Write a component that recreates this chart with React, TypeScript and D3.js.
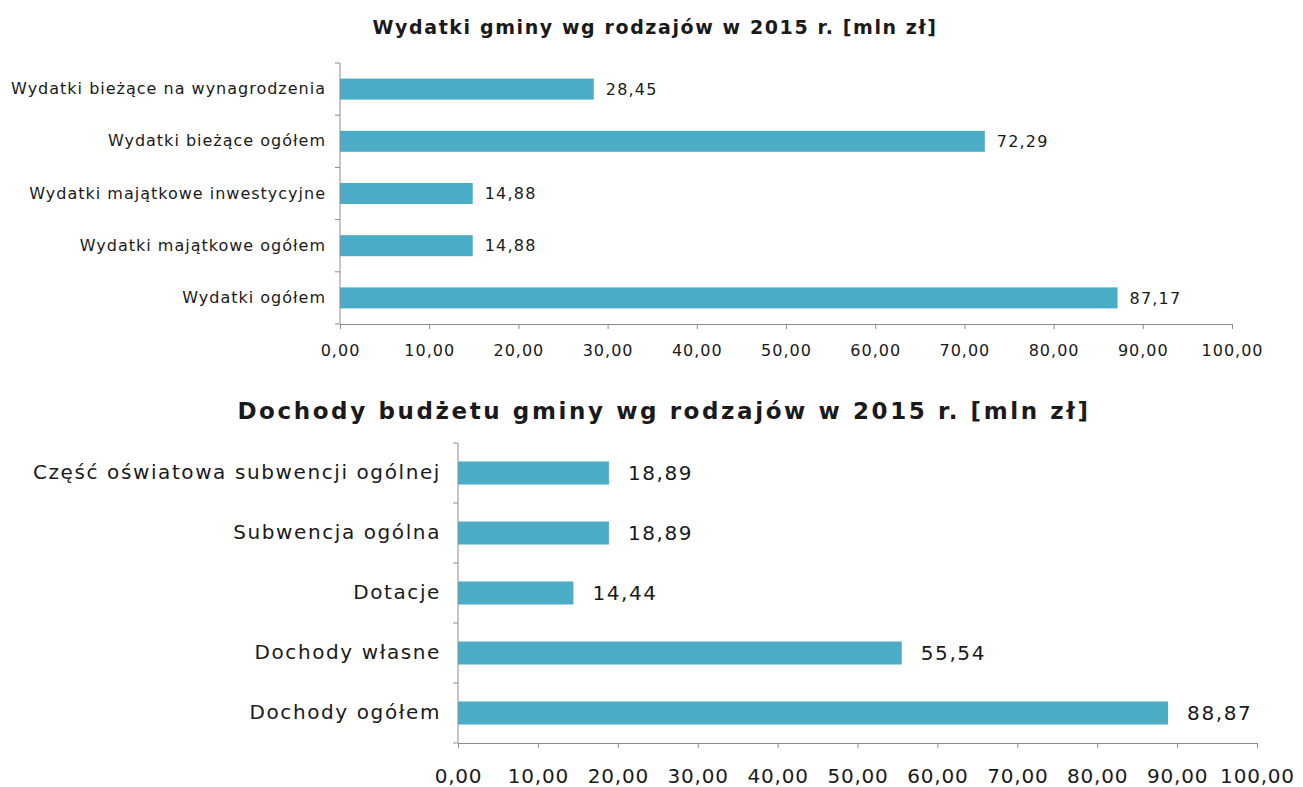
import React, { useEffect, useRef } from 'react';
import * as d3 from 'd3';

const wydatkiLabels = [
  'Wydatki bieżące na wynagrodzenia',
  'Wydatki bieżące ogółem',
  'Wydatki majątkowe inwestycyjne',
  'Wydatki majątkowe ogółem',
  'Wydatki ogółem',
];
const wydatkiValues = [28.45, 72.29, 14.88, 14.88, 87.17];

const dochodyLabels = [
  'Część oświatowa subwencji ogólnej',
  'Subwencja ogólna',
  'Dotacje',
  'Dochody własne',
  'Dochody ogółem',
];
const dochodyValues = [18.89, 18.89, 14.44, 55.54, 88.87];

const xTicks = [0, 10, 20, 30, 40, 50, 60, 70, 80, 90, 100];

const BAR = '#4bacc6';
const AXIS = '#8c8c8c';
const TEXT = '#1a1a1a';
const FONT = '"DejaVu Sans", Verdana, sans-serif';

const fmt = (v: number) => v.toFixed(2).replace('.', ',');

function drawChart(svg: any, opt: any) {
  const { labels, values, x0, x1, y0, y1, barH, title, titleX, titleY, titleSize, titleLs,
    labelSize, labelLs, valSize, valLs, tickSize, tickLs, tickPad, valueGap, labelGap } = opt;
  const g = svg.append('g');
  const x = d3.scaleLinear().domain([0, 100]).range([x0, x1]);
  const y = d3.scaleBand().domain(labels).range([y0, y1]);

  g.append('text')
    .attr('x', titleX).attr('y', titleY)
    .attr('text-anchor', 'middle')
    .attr('font-family', FONT).attr('font-weight', 'bold')
    .attr('font-size', titleSize).attr('letter-spacing', titleLs).attr('fill', TEXT)
    .text(title);

  g.selectAll('rect.bar')
    .data(values)
    .enter().append('rect')
    .attr('x', x(0))
    .attr('y', (d: number, i: number) => (y(labels[i]) as number) + y.bandwidth() / 2 - barH / 2)
    .attr('width', (d: number) => x(d) - x(0))
    .attr('height', barH)
    .attr('fill', BAR);

  g.selectAll('text.val')
    .data(values)
    .enter().append('text')
    .attr('x', (d: number) => x(d) + valueGap)
    .attr('y', (d: number, i: number) => (y(labels[i]) as number) + y.bandwidth() / 2)
    .attr('dy', '0.35em')
    .attr('font-family', FONT).attr('font-size', valSize).attr('letter-spacing', valLs).attr('fill', TEXT)
    .text((d: number) => fmt(d));

  const yAxis = g.append('g')
    .attr('transform', `translate(${x0},0)`)
    .call(d3.axisLeft(y).tickSize(0).tickPadding(labelGap));
  yAxis.select('.domain').remove();
  yAxis.selectAll('text').attr('font-family', FONT).attr('font-size', labelSize)
    .attr('letter-spacing', labelLs).attr('fill', TEXT);

  // category separator ticks on the vertical axis
  const bounds = labels.map((l: string) => y(l) as number).concat([y1]);
  g.append('line').attr('x1', x0).attr('x2', x0).attr('y1', y0).attr('y2', y1).attr('stroke', AXIS);
  g.selectAll('line.sep').data(bounds).enter().append('line')
    .attr('x1', x0 - 5).attr('x2', x0).attr('y1', (d: number) => d).attr('y2', (d: number) => d)
    .attr('stroke', AXIS);

  const xAxis = g.append('g')
    .attr('transform', `translate(0,${y1})`)
    .call(d3.axisBottom(x).tickValues(xTicks).tickSize(5).tickPadding(tickPad).tickFormat((d: any) => fmt(d)));
  xAxis.select('.domain').attr('stroke', AXIS);
  xAxis.selectAll('line').attr('stroke', AXIS);
  xAxis.selectAll('text').attr('font-family', FONT).attr('font-size', tickSize)
    .attr('letter-spacing', tickLs).attr('fill', TEXT);
}

export default function App() {
  const ref = useRef<SVGSVGElement>(null);

  useEffect(() => {
    const svg = d3.select(ref.current);
    svg.selectAll('*').remove();
    drawChart(svg, {
      labels: wydatkiLabels, values: wydatkiValues,
      x0: 340, x1: 1232, y0: 63, y1: 324, barH: 21,
      title: 'Wydatki gminy wg rodzajów w 2015 r. [mln zł]',
      titleX: 655, titleY: 34, titleSize: 19, titleLs: 1.6,
      labelSize: 16, labelLs: 1, labelGap: 14,
      valSize: 16, valLs: 1.2, valueGap: 12,
      tickSize: 16, tickLs: 1, tickPad: 16,
    });
    drawChart(svg, {
      labels: dochodyLabels, values: dochodyValues,
      x0: 458, x1: 1257, y0: 443, y1: 743, barH: 23,
      title: 'Dochody budżetu gminy wg rodzajów w 2015 r. [mln zł]',
      titleX: 664, titleY: 419, titleSize: 23, titleLs: 2.6,
      labelSize: 20, labelLs: 1.6, labelGap: 17,
      valSize: 20, valLs: 1.6, valueGap: 19,
      tickSize: 20, tickLs: 0.8, tickPad: 21,
    });
  }, []);

  return (
    <svg ref={ref} width={1303} height={787}
      style={{ position: 'absolute', left: 0, top: 0, background: '#fff' }} />
  );
}
